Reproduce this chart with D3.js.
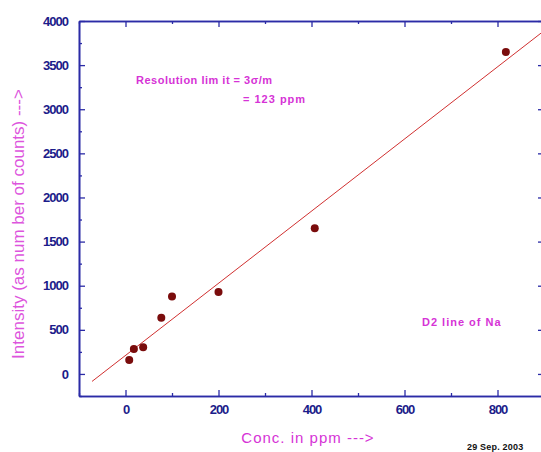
<!DOCTYPE html>
<html>
<head>
<meta charset="utf-8">
<script src="https://cdn.jsdelivr.net/npm/d3@7"></script>
<style>
  body { margin: 0; background: #fff; }
  svg { display: block; }
</style>
</head>
<body>
<div id="chart"></div>
<script>
// data
var conc = [8, 18, 38, 77, 100, 200, 407, 818];
var counts = [158, 283, 302, 637, 879, 928, 1651, 3650];
var xTicks = [0, 200, 400, 600, 800];
var yTicks = [0, 500, 1000, 1500, 2000, 2500, 3000, 3500, 4000];

var W = 541, H = 452;
var margin = {top: 21, left: 79, right: -3, bottom: 56};
var width = W - margin.left - margin.right;
var height = H - margin.top - margin.bottom;

var svg = d3.select("#chart").append("svg")
    .attr("width", W)
    .attr("height", H);

var g = svg.append("g")
    .attr("transform", "translate(" + margin.left + "," + margin.top + ")");

var x = d3.scaleLinear().domain([-100, 900]).range([0, width]);
var y = d3.scaleLinear().domain([-250, 4000]).range([height, 0]);

var axisCol = "#2b2ba6", labCol = "#1c1c8a", pink = "#d633d6";

g.append("clipPath").attr("id", "clip")
  .append("rect").attr("width", width).attr("height", height);

// least squares fit from the points
var mx = d3.mean(conc), my = d3.mean(counts);
var sxy = d3.sum(conc, function(d, i) { return (d - mx) * (counts[i] - my); });
var sxx = d3.sum(conc, function(d) { return (d - mx) * (d - mx); });
var slope = sxy / sxx, icpt = my - slope * mx;

g.append("line")
  .attr("clip-path", "url(#clip)")
  .attr("x1", x(-72)).attr("y1", y(icpt + slope * -72))
  .attr("x2", x(900)).attr("y2", y(icpt + slope * 900))
  .attr("stroke", "#d03030")
  .attr("stroke-width", 1);

g.selectAll("circle.pt")
  .data(conc)
  .enter().append("circle")
  .attr("class", "pt")
  .attr("cx", function(d) { return x(d); })
  .attr("cy", function(d, i) { return y(counts[i]); })
  .attr("r", 4)
  .attr("fill", "#7a0c0c");

function styleAxis(sel) {
  sel.select(".domain").attr("stroke", axisCol).attr("stroke-width", 1.6);
  sel.selectAll(".tick line").attr("stroke", axisCol).attr("stroke-width", 1.3);
  sel.selectAll("text")
    .attr("fill", labCol)
    .style("font", "bold 13px 'Liberation Sans', Arial, sans-serif")
    .style("letter-spacing", "-1px");
}

var fmt = d3.format("d");
var xMinor = d3.range(-100, 901, 100).filter(function(v) { return xTicks.indexOf(v) < 0; });
var yMinor = d3.range(-250, 4001, 250).filter(function(v) { return yTicks.indexOf(v) < 0; });

// bottom
g.append("g").attr("transform", "translate(0," + height + ")")
  .call(d3.axisBottom(x).tickValues(xTicks).tickFormat(fmt).tickSizeInner(-6).tickSizeOuter(0).tickPadding(9))
  .call(styleAxis);
g.append("g").attr("transform", "translate(0," + height + ")")
  .call(d3.axisBottom(x).tickValues(xMinor).tickSizeInner(-3).tickSizeOuter(0).tickFormat(""))
  .call(styleAxis);
// top
g.append("g")
  .call(d3.axisTop(x).tickValues(xTicks).tickSizeInner(-6).tickSizeOuter(0).tickFormat(""))
  .call(styleAxis);
g.append("g")
  .call(d3.axisTop(x).tickValues(xMinor).tickSizeInner(-3).tickSizeOuter(0).tickFormat(""))
  .call(styleAxis);
// left
g.append("g")
  .call(d3.axisLeft(y).tickValues(yTicks).tickFormat(fmt).tickSizeInner(-6).tickSizeOuter(0).tickPadding(11))
  .call(styleAxis);
g.append("g")
  .call(d3.axisLeft(y).tickValues(yMinor).tickSizeInner(-3).tickSizeOuter(0).tickFormat(""))
  .call(styleAxis);
// right
g.append("g").attr("transform", "translate(" + width + ",0)")
  .call(d3.axisRight(y).tickValues(yTicks).tickSizeInner(-6).tickSizeOuter(0).tickFormat(""))
  .call(styleAxis);
g.append("g").attr("transform", "translate(" + width + ",0)")
  .call(d3.axisRight(y).tickValues(yMinor).tickSizeInner(-3).tickSizeOuter(0).tickFormat(""))
  .call(styleAxis);

// titles
svg.append("text")
  .attr("x", 308).attr("y", 443)
  .attr("text-anchor", "middle")
  .attr("fill", pink)
  .style("font", "15px 'Liberation Sans', Arial, sans-serif")
  .style("letter-spacing", "1px")
  .text("Conc. in ppm --->");

svg.append("text")
  .attr("transform", "translate(24," + 224 + ") rotate(-90)")
  .attr("text-anchor", "middle")
  .attr("fill", "#dd55dd")
  .style("font", "17px 'Liberation Sans', Arial, sans-serif")
  .text("Intensity (as num ber of counts) --->");

var noteFont = "bold 11px 'Liberation Sans', Arial, sans-serif";
svg.append("text")
  .attr("x", 136).attr("y", 84)
  .attr("fill", pink)
  .style("font", noteFont)
  .style("letter-spacing", "0.5px")
  .text("Resolution lim it = 3σ/m");
svg.append("text")
  .attr("x", 243).attr("y", 103)
  .attr("fill", pink)
  .style("font", noteFont)
  .style("letter-spacing", "1px")
  .text("= 123 ppm");

svg.append("text")
  .attr("x", 422).attr("y", 326)
  .attr("fill", pink)
  .style("font", noteFont)
  .style("letter-spacing", "1px")
  .text("D2 line of Na");

svg.append("text")
  .attr("x", 467).attr("y", 450)
  .attr("fill", "#111")
  .style("font", "bold 9px 'Liberation Sans', Arial, sans-serif")
  .style("letter-spacing", "0.2px")
  .text("29 Sep. 2003");
</script>
</body>
</html>
